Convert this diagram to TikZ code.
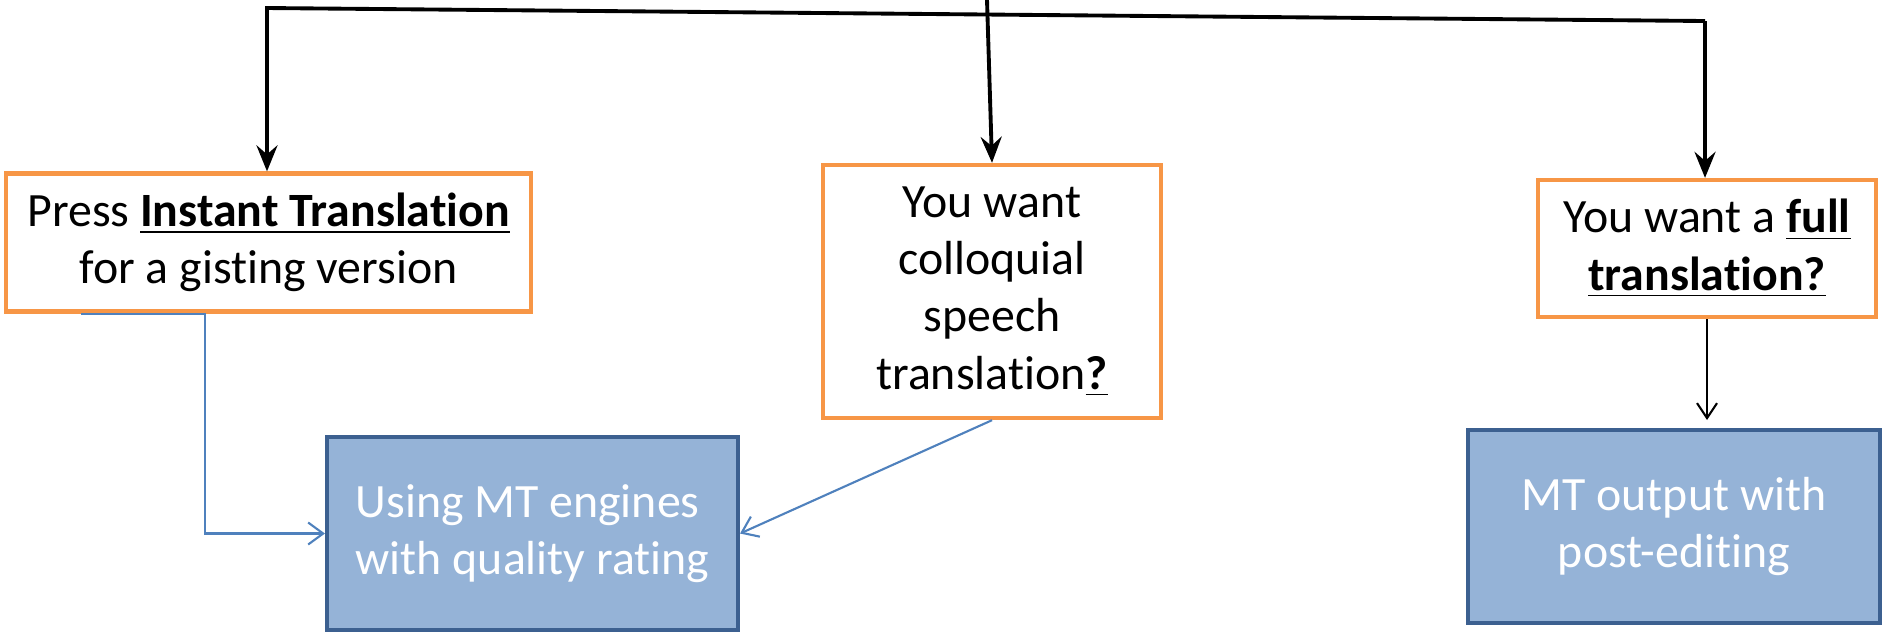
\documentclass[tikz,border=0pt]{standalone}
\usepackage{fontspec}
\setmainfont{Carlito}[Ligatures=NoCommon]
\usepackage{xcolor}
\usepackage{tikz}
\usetikzlibrary{arrows.meta,positioning}

\definecolor{boxorange}{HTML}{F79646}
\definecolor{boxblue}{HTML}{95B3D7}
\definecolor{boxedge}{HTML}{3C6090}
\definecolor{flowblue}{HTML}{4F81BD}

\begin{document}
\begin{tikzpicture}[x=0.01cm,y=-0.01cm,font=\fontsize{13.6}{16.3}\selectfont,
  choice node/.style={rectangle,draw=boxorange,line width=1.2pt,fill=white,align=center,inner sep=0pt},
  result node/.style={rectangle,draw=boxedge,line width=1.1pt,fill=boxblue,text=white,
    minimum width=4.11cm,minimum height=1.93cm,inner sep=0pt},
  main arrow/.style={line width=1.1pt,-{Stealth[length=0.26cm,width=0.21cm,inset=0.09cm]}},
  flow arrow/.style={flowblue,line width=0.6pt,-{Straight Barb[length=0.15cm,width=0.22cm]}},
  thin arrow/.style={line width=0.6pt,-{Straight Barb[length=0.15cm,width=0.2cm]}}]

  \useasboundingbox (0,0) rectangle (1883,635);

  \node[choice node,minimum width=5.25cm,minimum height=1.38cm] (instant) at (268.5,242.5)
    {Press \underline{\textbf{Instant Translation}}\\for a gisting version};
  \node[choice node,minimum width=3.38cm,minimum height=2.53cm] (colloq) at (992,291.5)
    {You want\\colloquial\\speech\\translation\underline{\textbf{?}}};
  \node[choice node,minimum width=3.38cm,minimum height=1.37cm] (full) at (1707,248.5)
    {You want a \underline{\textbf{full}}\\\underline{\textbf{translation?}}};

  \node[result node,align=left] (engines) at (532.5,533.5) {Using MT engines\\with quality rating};
  \node[result node,minimum width=4.12cm,align=center] (postedit) at (1674,526.5) {MT output with\\post-editing};

  \coordinate (tl) at (267,8);
  \coordinate (tr) at (1705,21);
  \coordinate (tc) at (987,0);

  \draw[main arrow] (tr) -- (tl) -- (tl |- instant.north);
  \draw[main arrow] (tc) -- (colloq.north);
  \draw[main arrow] (tr) -- (tr |- full.north);

  \draw[flow arrow] ([xshift=-1.875cm]instant.south) -- ++(124.5,0) |- (engines.west);
  \draw[flow arrow] (colloq.south) -- (engines.east);
  \draw[thin arrow,shorten >=0.08cm] (full.south) -- (full.south |- postedit.north);
\end{tikzpicture}
\end{document}
